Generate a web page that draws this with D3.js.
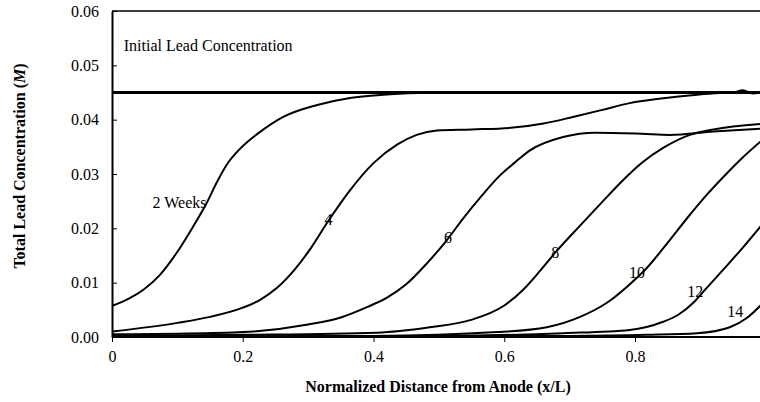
<!DOCTYPE html>
<html>
<head>
<meta charset="utf-8">
<script src="https://cdn.jsdelivr.net/npm/d3@7"></script>
<style>
  html, body { margin: 0; padding: 0; background: #fff; }
  svg { display: block; font-family: "Liberation Serif", "Times New Roman", serif; }
</style>
</head>
<body>
<svg id="chart" width="760" height="402"></svg>
<script>
// ---- data ----
const xTicks = [0, 0.2, 0.4, 0.6, 0.8];
const yTicks = [0, 0.01, 0.02, 0.03, 0.04, 0.05, 0.06];

const initialLine = [[0, 0.045], [1.0, 0.045]];

const week2 = [[0,0.0057],[0.025,0.0070],[0.048,0.0087],[0.073,0.0114],[0.099,0.0155],[0.124,0.0203],
  [0.145,0.0247],[0.16,0.0284],[0.176,0.0318],[0.19,0.0339],[0.211,0.0363],[0.226,0.0377],[0.262,0.0405],
  [0.314,0.0427],[0.364,0.0440],[0.415,0.0446],[0.47,0.0449],[0.52,0.0450],[1.0,0.0450]];

const week4 = [[0,0.0010],[0.1,0.0026],[0.15,0.0037],[0.2,0.0054],[0.226,0.0068],[0.252,0.0090],[0.28,0.0125],
  [0.305,0.0165],[0.33,0.0212],[0.364,0.0270],[0.4,0.0320],[0.436,0.0354],[0.466,0.0372],[0.497,0.0380],
  [0.55,0.0382],[0.61,0.0385],[0.66,0.0393],[0.705,0.0405],[0.75,0.0418],[0.79,0.0430],[0.84,0.0439],
  [0.895,0.0446],[0.93,0.0449],[0.95,0.0450],[0.965,0.0454],[0.98,0.0448],[1.0,0.0453]];

const week6 = [[0,0.0005],[0.1,0.0006],[0.2,0.0009],[0.3,0.0023],[0.35,0.0036],[0.39,0.0055],[0.42,0.0072],
  [0.45,0.0097],[0.482,0.0136],[0.512,0.0178],[0.537,0.0218],[0.567,0.0262],[0.589,0.0292],[0.615,0.0320],
  [0.64,0.0344],[0.69,0.0368],[0.74,0.0376],[0.81,0.0374],[0.853,0.0372],[0.92,0.0378],[1.0,0.0384]];

const week8 = [[0,0.0002],[0.2,0.0004],[0.405,0.0008],[0.486,0.0018],[0.548,0.0031],[0.6,0.0058],
  [0.629,0.0087],[0.655,0.0122],[0.68,0.0158],[0.716,0.0205],[0.751,0.0250],[0.782,0.0289],
  [0.812,0.0322],[0.843,0.0348],[0.884,0.0372],[0.92,0.0382],[1.0,0.0393]];

const week10 = [[0,0.0001],[0.4,0.0002],[0.589,0.0009],[0.665,0.0018],[0.716,0.0037],[0.757,0.0063],
  [0.79,0.0095],[0.818,0.0127],[0.843,0.0163],[0.884,0.0225],[0.91,0.0262],[0.93,0.0288],[0.96,0.0325],
  [1.0,0.0368]];

const week12 = [[0,0.0000],[0.5,0.0002],[0.69,0.0007],[0.792,0.0013],[0.843,0.0028],[0.865,0.0040],
  [0.89,0.0064],[0.908,0.0088],[0.935,0.0124],[0.966,0.0166],[1.0,0.0215]];

const week14 = [[0,0.0000],[0.7,0.0002],[0.818,0.0004],[0.895,0.0007],[0.945,0.0018],[0.971,0.0035],[1.0,0.0068]];

const seriesList = [week2, week4, week6, week8, week10, week12, week14];

const labelTexts = ["Initial Lead Concentration", "2 Weeks", "4", "6", "8", "10", "12", "14"];
const labelX = [0.018, 0.062, 0.325, 0.508, 0.672, 0.791, 0.88, 0.941];
const labelY = [0.0526, 0.0237, 0.0206, 0.0173, 0.0146, 0.0109, 0.0074, 0.0037];

// ---- layout ----
const svg = d3.select("#chart");
const W = 760;

const x = d3.scaleLinear().domain([0, 1]).range([112, 765.75]);
const y = d3.scaleLinear().domain([0, 0.06]).range([337, 11]);

// top frame line
svg.append("line")
  .attr("x1", x(0)).attr("x2", W)
  .attr("y1", y(0.06)).attr("y2", y(0.06))
  .attr("stroke", "#000").attr("stroke-width", 1.5);

// axes
const yAxis = d3.axisLeft(y).tickValues(yTicks).tickFormat(d3.format(".2f"))
  .tickSizeInner(-5).tickSizeOuter(0).tickPadding(13);
const gy = svg.append("g").attr("transform", `translate(${x(0)},0)`).call(yAxis);

const xAxis = d3.axisBottom(x).tickValues(xTicks)
  .tickFormat(d => d === 0 ? "0" : d3.format(".1f")(d))
  .tickSizeInner(5).tickSizeOuter(0).tickPadding(9);
const gx = svg.append("g").attr("transform", `translate(0,${y(0)})`).call(xAxis);

[gx, gy].forEach(g => {
  g.select(".domain").attr("stroke", "#000").attr("stroke-width", 2);
  g.selectAll(".tick line").attr("stroke", "#000").attr("stroke-width", 1);
  g.selectAll(".tick text").attr("fill", "#000")
    .style("font-family", '"Liberation Serif", serif').style("font-size", "16px");
});
gx.select(".domain").attr("d", `M${x(0)},0H${W}`);

// lines
const line = d3.line().x(d => x(d[0])).y(d => y(d[1])).curve(d3.curveMonotoneX);

svg.append("path").datum(initialLine)
  .attr("d", line).attr("fill", "none")
  .attr("stroke", "#000").attr("stroke-width", 3);

svg.selectAll("path.series").data(seriesList).enter().append("path")
  .attr("class", "series")
  .attr("d", line).attr("fill", "none")
  .attr("stroke", "#000").attr("stroke-width", 2)
  .attr("stroke-linejoin", "round");

// labels
svg.selectAll("text.lbl").data(labelTexts).enter().append("text")
  .attr("class", "lbl")
  .attr("x", (d, i) => x(labelX[i]))
  .attr("y", (d, i) => y(labelY[i]))
  .style("font-size", "16px")
  .attr("fill", "#000")
  .text(d => d);

// axis titles
svg.append("text")
  .attr("x", 438).attr("y", 392)
  .attr("text-anchor", "middle")
  .style("font-size", "16px").style("font-weight", "bold")
  .text("Normalized Distance from Anode (x/L)");

const yt = svg.append("text")
  .attr("transform", "translate(25,166) rotate(-90)")
  .attr("text-anchor", "middle")
  .style("font-size", "16px").style("font-weight", "bold");
yt.append("tspan").text("Total Lead Concentration (");
yt.append("tspan").style("font-style", "italic").text("M");
yt.append("tspan").text(")");
</script>
</body>
</html>
